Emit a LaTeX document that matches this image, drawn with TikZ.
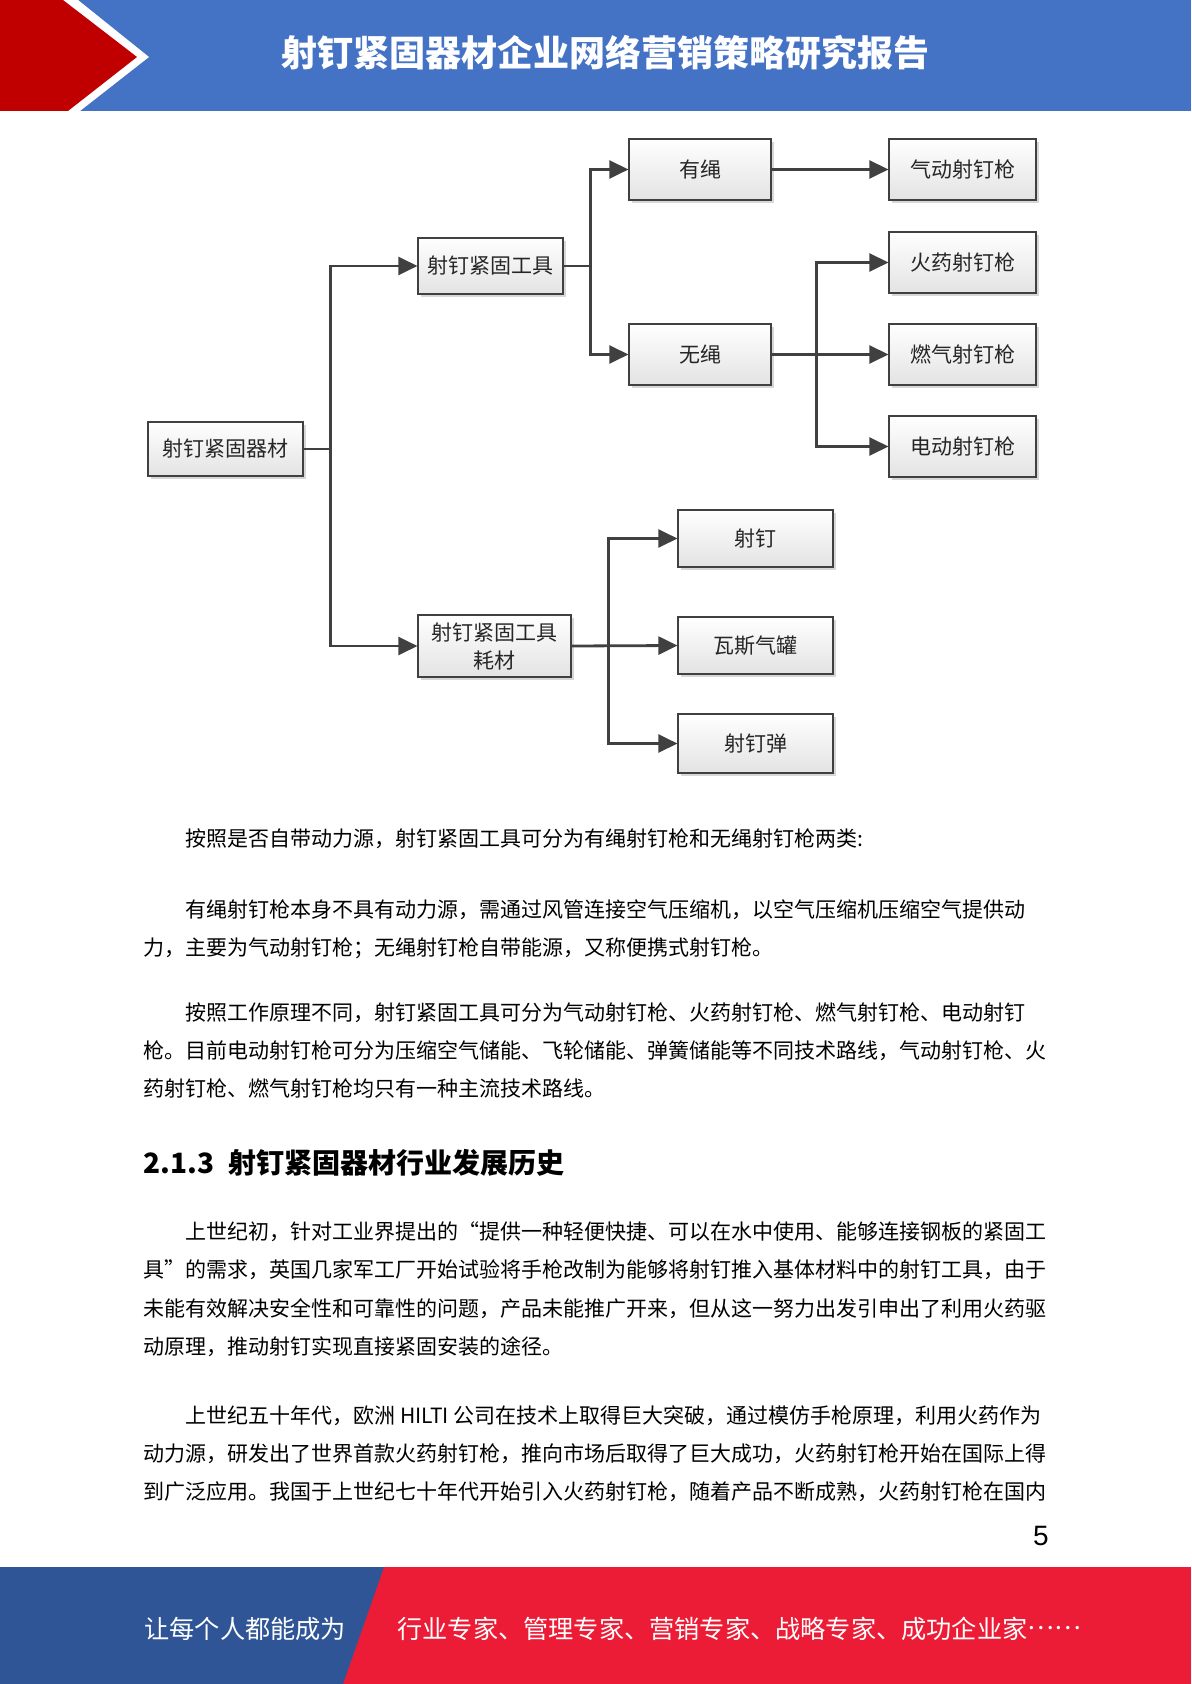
\documentclass[tikz,border=0pt]{standalone}
\usepackage{fontspec}
\setmainfont{Noto Sans CJK SC}
\newfontfamily\numfont{Liberation Sans}
\usepackage{xcolor}
\usepackage{tikz}
\usetikzlibrary{arrows.meta,shadows}
\definecolor{pghead}{RGB}{68,114,196}
\definecolor{pgred}{RGB}{192,0,0}
\definecolor{pgfootb}{RGB}{47,85,151}
\definecolor{pgfootr}{RGB}{237,28,54}
\definecolor{pgedge}{RGB}{64,64,64}
\definecolor{pgtxt}{RGB}{38,38,38}
\tikzset{
  tbox/.style={
    draw=pgedge, line width=0.6pt, top color=white, bottom color=black!11,
    align=center, inner sep=0pt, text=pgtxt,
    font=\fontsize{10.5pt}{14pt}\selectfont,
    drop shadow={shadow xshift=1.6pt, shadow yshift=-1.6pt, fill=black!35, opacity=0.45}
  },
  rootbox/.style={tbox, minimum width=77.5pt, minimum height=27pt},
  midbox/.style={tbox, minimum width=72.5pt, minimum height=28pt},
  cordbox/.style={tbox, minimum width=71pt, minimum height=30.5pt},
  gunbox/.style={tbox, minimum width=73.5pt, minimum height=30.5pt},
  partbox/.style={tbox, minimum width=77.5pt, minimum height=28.5pt},
  arr/.style={-{Triangle[length=9.5pt,width=9pt]}, draw=pgedge, line width=1.4pt},
  body/.style={anchor=base west, inner sep=0pt, font=\fontsize{10.5pt}{13pt}\selectfont},
  foot/.style={anchor=base west, inner sep=0pt, text=white, font=\fontsize{12.6pt}{15pt}\selectfont}
}

\begin{document}
\begin{tikzpicture}[x=0.5pt, y=-0.5pt]
  \useasboundingbox (0,0) rectangle (1191,1684);
  % header band
  \fill[pghead] (0,0) rectangle (1191,111);
  \fill[white] (0,0) -- (78,0) -- (149,57) -- (80,111) -- (0,111) -- cycle;
  \fill[pgred] (0,0) -- (63,0) -- (137,57) -- (68,111) -- (0,111) -- cycle;
  \node[anchor=base, inner sep=0pt, text=white, font=\bfseries\fontsize{18pt}{20pt}\selectfont]
    (title) at (605,67) {射钉紧固器材企业网络营销策略研究报告};

  % tree
  \node[rootbox] (root) at (225.5,449) {射钉紧固器材};
  \node[midbox] (tool) at (490.5,266) {射钉紧固工具};
  \node[midbox, minimum width=76.5pt, minimum height=31pt] (cons) at (494.5,646) {射钉紧固工具\\耗材};
  \node[cordbox] (corded) at (700,169.5) {有绳};
  \node[cordbox] (cordless) at (700,354.5) {无绳};
  \node[gunbox] (pneu) at (962.5,169.5) {气动射钉枪};
  \node[gunbox] (powder) at (962.5,262.5) {火药射钉枪};
  \node[gunbox] (gas) at (962.5,354.5) {燃气射钉枪};
  \node[gunbox] (elec) at (962.5,446.5) {电动射钉枪};
  \node[partbox] (nail) at (755.5,538.5) {射钉};
  \node[partbox] (can) at (755.5,645.5) {瓦斯气罐};
  \node[partbox, minimum height=29.5pt] (load) at (755.5,743.5) {射钉弹};

  \draw[arr] (root.east) -- ++(27,0) |- (tool.west);
  \draw[arr] (root.east) -- ++(27,0) |- (cons.west);
  \draw[arr] (tool.east) -- ++(27,0) |- (corded.west);
  \draw[arr] (tool.east) -- ++(27,0) |- (cordless.west);
  \draw[arr] (corded.east) -- (pneu.west);
  \draw[arr] (cordless.east) -- ++(45,0) |- (powder.west);
  \draw[arr] (cordless.east) -- (gas.west);
  \draw[arr] (cordless.east) -- ++(45,0) |- (elec.west);
  \draw[arr] (cons.east) -- ++(37,0) |- (nail.west);
  \draw[arr] (cons.east) -- (can.west);
  \draw[arr] (cons.east) -- ++(37,0) |- (load.west);

  % body text
  \node[body] (p1) at (185,846) {按照是否自带动力源，射钉紧固工具可分为有绳射钉枪和无绳射钉枪两类:};
  \node[body] (p2a) at (185,917) {有绳射钉枪本身不具有动力源，需通过风管连接空气压缩机，以空气压缩机压缩空气提供动};
  \node[body] (p2b) at (143,955) {力，主要为气动射钉枪；无绳射钉枪自带能源，又称便携式射钉枪。};
  \node[body] (p3a) at (185,1020) {按照工作原理不同，射钉紧固工具可分为气动射钉枪、火药射钉枪、燃气射钉枪、电动射钉};
  \node[body] (p3b) at (143,1058) {枪。目前电动射钉枪可分为压缩空气储能、飞轮储能、弹簧储能等不同技术路线，气动射钉枪、火};
  \node[body] (p3c) at (143,1096) {药射钉枪、燃气射钉枪均只有一种主流技术路线。};
  \node[body, font=\bfseries\fontsize{14pt}{16pt}\selectfont] (sec) at (143,1173)
    {2.1.3\hspace{7pt}射钉紧固器材行业发展历史};
  \node[body] (p4a) at (185,1239) {上世纪初，针对工业界提出的“提供一种轻便快捷、可以在水中使用、能够连接钢板的紧固工};
  \node[body] (p4b) at (143,1277) {具”的需求，英国几家军工厂开始试验将手枪改制为能够将射钉推入基体材料中的射钉工具，由于};
  \node[body] (p4c) at (143,1316) {未能有效解决安全性和可靠性的问题，产品未能推广开来，但从这一努力出发引申出了利用火药驱};
  \node[body] (p4d) at (143,1354) {动原理，推动射钉实现直接紧固安装的途径。};
  \node[body] (p5a) at (185,1423) {上世纪五十年代，欧洲 HILTI 公司在技术上取得巨大突破，通过模仿手枪原理，利用火药作为};
  \node[body] (p5b) at (143,1461) {动力源，研发出了世界首款火药射钉枪，推向市场后取得了巨大成功，火药射钉枪开始在国际上得};
  \node[body] (p5c) at (143,1499) {到广泛应用。我国于上世纪七十年代开始引入火药射钉枪，随着产品不断成熟，火药射钉枪在国内};
  \node[anchor=base, inner sep=0pt, font=\numfont\fontsize{14pt}{16pt}\selectfont] (pgno) at (1041,1545) {5};

  % footer band
  \fill[pgfootr] (0,1567) rectangle (1191,1684);
  \fill[pgfootb] (0,1567) -- (384,1567) -- (343,1684) -- (0,1684) -- cycle;
  \node[foot] (slogan) at (144,1638) {让每个人都能成为};
  \node[foot] (roles) at (397,1638) {行业专家、管理专家、营销专家、战略专家、成功企业家\raisebox{0.32em}{……}};
\end{tikzpicture}
\end{document}
